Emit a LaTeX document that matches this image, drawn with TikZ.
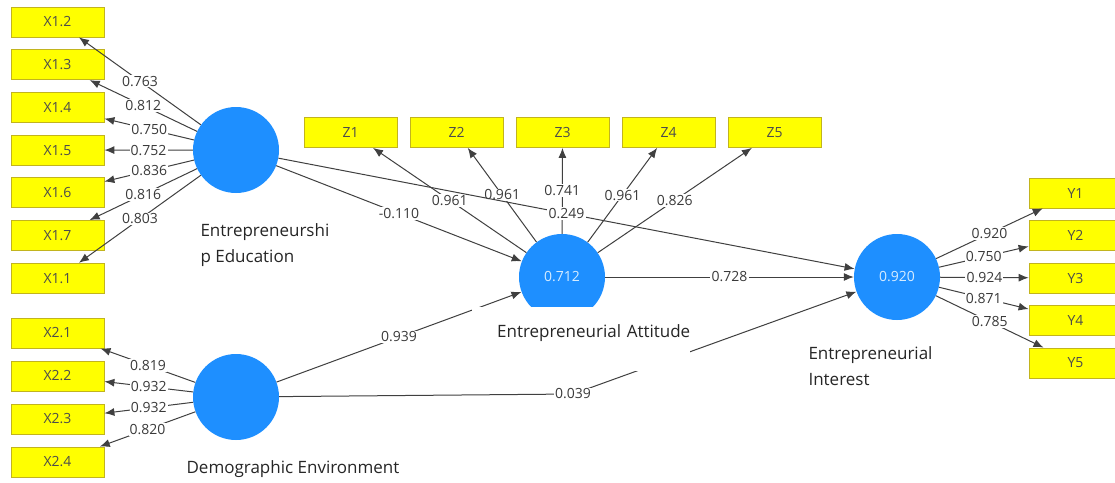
\documentclass[tikz,border=0pt]{standalone}
\usepackage{fontspec}
\setmainfont{Open Sans}
\usetikzlibrary{arrows.meta}
\definecolor{ybox}{HTML}{FFFF00}
\definecolor{yedge}{HTML}{C2B41E}
\definecolor{lvc}{HTML}{1E8FFF}
\definecolor{lvtxt}{HTML}{D6ECFF}
\definecolor{ink}{HTML}{3A3A3A}
\newcommand{\numfont}{\fontsize{14}{16}\selectfont}
\newcommand{\capfont}{\fontsize{17}{26}\selectfont}
\tikzset{
  ind/.style={rectangle, fill=ybox, draw=yedge, line width=0.8pt, minimum width=93pt, minimum height=30pt, inner sep=0pt, font=\numfont, text=black!70},
  lv/.style={circle, fill=lvc, inner sep=0pt, minimum size=86pt, font=\numfont, text=lvtxt},
  wt/.style={fill=white, inner sep=1.2pt, font=\numfont, text=ink},
  load/.style={draw=black!75, line width=1pt, -{Latex[length=10pt,width=8pt]}},
  lvcap/.style={font=\capfont, text=black!85},
}
\begin{document}
\begin{tikzpicture}[x=1pt,y=-1pt]
  \clip (0,0) rectangle (1115,482);
  \fill[white] (0,0) rectangle (1115,482);
  % latent variables
  \node[lv] (ee) at (236,150) {};
  \node[lv] (de) at (236,397) {};
  \node[lv] (ea) at (562,277) {0.712};
  \node[lv] (ei) at (897,277) {0.920};
  % indicators
  \foreach \n [count=\i from 0] in {1.2,1.3,1.4,1.5,1.6,1.7,1.1}
    \node[ind] (xa\i) at (57.5,{22+42.7*\i}) {X\n};
  \foreach \n [count=\i from 0] in {2.1,2.2,2.3,2.4}
    \node[ind] (xb\i) at (57.5,{333+43*\i}) {X\n};
  \foreach \n [count=\i from 0] in {1,...,5}
    \node[ind] (z\i) at ({350.5+106*\i},132.5) {Z\n};
  \foreach \n [count=\i from 0] in {1,...,5}
    \node[ind] (y\i) at (1075.5,{193+42.5*\i}) {Y\n};
  % outer loadings
  \foreach \v [count=\i from 0] in {0.763,0.812,0.750,0.752,0.836,0.816,0.803}
    \draw[load] (ee) -- node[wt] {\v} (xa\i);
  \foreach \v [count=\i from 0] in {0.819,0.932,0.932,0.820}
    \draw[load] (de) -- node[wt] {\v} (xb\i);
  \foreach \v [count=\i from 0] in {0.961,0.961,0.741,0.961,0.826}
    \draw[load] (ea) -- node[wt] {\v} (z\i);
  \foreach \v [count=\i from 0] in {0.920,0.750,0.924,0.871,0.785}
    \draw[load] (ei) -- node[wt] {\v} (y\i);
  % path coefficients
  \coordinate (bnd) at (573,394);
  \draw[load] (ee) -- node[wt] {-0.110} (ea);
  \draw[load] (de) -- node[wt] {0.939} (ea);
  \draw[load] (ee) -- node[wt] {0.249} (ei);
  \draw[load] (ea) -- node[wt] {0.728} (ei);
  \draw[load] (de) -- (bnd) -- (ei);
  \node[wt] (bndlbl) at (bnd) {0.039};
  % captions
  \node[lvcap, anchor=west, align=left] (eecap) at (197,245) {Entrepreneurshi\\p Education};
  \node[lvcap] (decap) at (293,469) {Demographic Environment};
  \node[lvcap, fill=white, anchor=base west, inner sep=0pt, text width=218pt, align=right,
        text height=30pt, text depth=34pt] (eacap) at (472,337) {Entrepreneurial Attitude};
  \node[lvcap, anchor=west, align=left] (eicap) at (805,366) {Entrepreneurial\\Interest};
\end{tikzpicture}
\end{document}
